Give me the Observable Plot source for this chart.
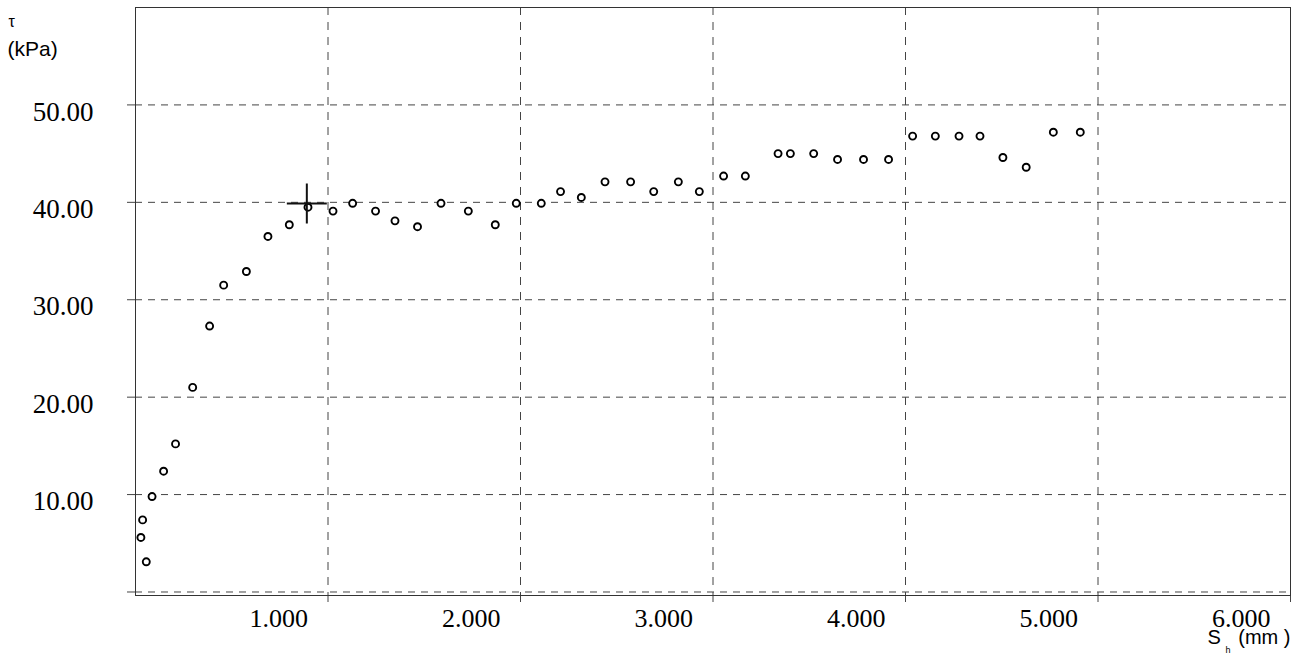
<!DOCTYPE html>
<html><head><meta charset="utf-8">
<script src="https://cdn.jsdelivr.net/npm/d3@7"></script>
<script src="https://cdn.jsdelivr.net/npm/@observablehq/plot@0.6"></script>
<style>html,body{margin:0;padding:0;background:#fff}svg{display:block}</style>
</head><body><div id="chart"></div>
<script>
// Horizontal displacement S_h (mm)
const sh = [0.028,0.037,0.056,0.086,0.146,0.208,0.297,0.385,0.458,0.576,0.688,0.799,0.896,1.026,1.128,1.247,1.348,1.465,1.587,1.729,1.869,1.978,2.108,2.208,2.316,2.439,2.572,2.692,2.820,2.929,3.055,3.168,3.338,3.402,3.523,3.647,3.782,3.912,4.037,4.155,4.278,4.387,4.506,4.627,4.768,4.908];
// Shear stress tau (kPa)
const tau = [5.6,7.4,3.1,9.8,12.4,15.2,21.0,27.3,31.5,32.9,36.5,37.7,39.5,39.1,39.9,39.1,38.1,37.5,39.9,39.1,37.7,39.9,39.9,41.1,40.5,42.1,42.1,41.1,42.1,41.1,42.7,42.7,45.0,45.0,45.0,44.4,44.4,44.4,46.8,46.8,46.8,46.8,44.6,43.6,47.2,47.2];
// Cursor (peak marker)
const cursorX = [0.89];
const cursorY = [39.88];
// Ticks
const xTicks = [1,2,3,4,5,6];
const xTickLabels = ["1.000","2.000","3.000","4.000","5.000","6.000"];
const yGrid = [0,10,20,30,40,50];
const yLabelTicks = [10,20,30,40,50];
const yTickLabels = ["10.00","20.00","30.00","40.00","50.00"];

const points = sh.map((x, i) => ({x, y: tau[i]}));
const cursor = cursorX.map((x, i) => ({x, y: cursorY[i]}));
const xLab = xTicks.map((v, i) => ({v, t: xTickLabels[i]}));
const yLab = yLabelTicks.map((v, i) => ({v, t: yTickLabels[i]}));

const crossSymbol = {
  draw(ctx) {
    ctx.moveTo(-20, 0); ctx.lineTo(20, 0);
    ctx.moveTo(0, -20); ctx.lineTo(0, 20);
  }
};

const serif = "'Liberation Serif','Times New Roman',serif";
const sans = "'Liberation Sans',Arial,sans-serif";

const chart = Plot.plot({
  width: 1296,
  height: 654,
  marginLeft: 135,
  marginRight: 6,
  marginTop: 7,
  marginBottom: 59,
  x: {domain: [0, 6], axis: null},
  y: {domain: [-0.36, 60], axis: null},
  style: {background: "#fff", overflow: "visible"},
  marks: [
    Plot.ruleX(xTicks, {x: d => d, stroke: "#444", strokeWidth: 1, strokeDasharray: "8,7"}),
    Plot.ruleY(yGrid, {y: d => d, stroke: "#444", strokeWidth: 1, strokeDasharray: "7,6"}),
    Plot.axisY(yGrid, {anchor: "left", tickSize: 8, tickFormat: () => "", stroke: "#444"}),
    Plot.axisX(xTicks, {anchor: "bottom", tickSize: 7, tickFormat: () => "", stroke: "#444"}),
    Plot.frame({stroke: "#333", strokeWidth: 1}),
    Plot.text(yLab, {x: 0, y: "v", text: "t", textAnchor: "end", lineAnchor: "middle", dx: -42, dy: 7,
      fontSize: 27, fontFamily: serif, fill: "#000"}),
    Plot.text(xLab, {x: "v", text: "t", frameAnchor: "bottom", textAnchor: "end", lineAnchor: "middle", dx: -20, dy: 23,
      fontSize: 26, fontFamily: serif, fill: "#000"}),
    Plot.dot(points, {x: "x", y: "y", r: 3.5, stroke: "#000", strokeWidth: 1.9, fill: "#fff"}),
    Plot.dot(cursor, {x: "x", y: "y", symbol: crossSymbol, stroke: "#111", strokeWidth: 2, fill: "none"}),
    Plot.text(["τ"], {frameAnchor: "top-left", text: d => d, textAnchor: "start", lineAnchor: "middle", dx: -127, dy: 14,
      fontSize: 16, fontFamily: sans, fill: "#000"}),
    Plot.text(["(kPa)"], {frameAnchor: "top-left", text: d => d, textAnchor: "start", lineAnchor: "middle", dx: -128, dy: 42,
      fontSize: 21, fontFamily: sans, fill: "#000"}),
    Plot.text(["S"], {frameAnchor: "bottom-right", text: d => d, textAnchor: "start", lineAnchor: "middle", dx: -83, dy: 42,
      fontSize: 20, fontFamily: sans, fill: "#000"}),
    Plot.text(["h"], {frameAnchor: "bottom-right", text: d => d, textAnchor: "start", lineAnchor: "middle", dx: -65, dy: 55,
      fontSize: 9, fontFamily: sans, fill: "#000"}),
    Plot.text(["(mm )"], {frameAnchor: "bottom-right", text: d => d, textAnchor: "end", lineAnchor: "middle", dx: 0, dy: 42,
      fontSize: 20, fontFamily: sans, fill: "#000"})
  ]
});
document.getElementById("chart").appendChild(chart);
</script>
</body></html>
